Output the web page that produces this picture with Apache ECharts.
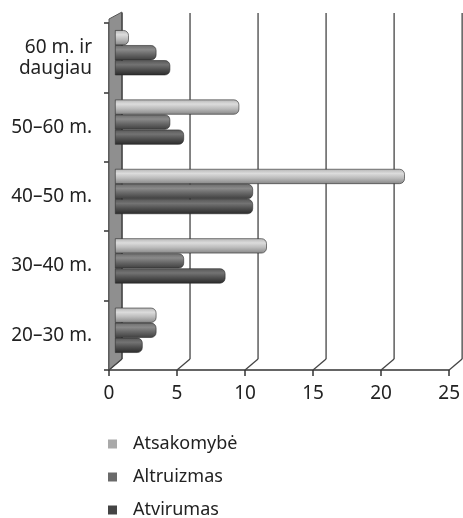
<!DOCTYPE html>
<html><head><meta charset="utf-8">
<script src="https://cdn.jsdelivr.net/npm/echarts@6/dist/echarts.min.js"></script>
<style>html,body{margin:0;padding:0;background:#fff}#c{width:463px;height:518px}</style>
</head><body><div id="c"></div>
<script>
const categories = ['20–30 m.', '30–40 m.', '40–50 m.', '50–60 m.', '60 m. ir\ndaugiau'];
const seriesNames = ['Atsakomybė', 'Altruizmas', 'Atvirumas'];
const atsakomybe = [3, 11, 21, 9, 1];
const altruizmas = [3, 5, 10, 4, 3];
const atvirumas = [2, 8, 10, 5, 4];
const xTicks = [0, 5, 10, 15, 20, 25];

const DX = 13, DY = -11;
const FONT = 'Noto Sans';

function grad(stops) {
  return new echarts.graphic.LinearGradient(0, 0, 0, 1, stops.map((c, i) => ({offset: [0, 0.3, 0.6, 1][i], color: c})));
}
const fills = [
  grad(['#b4b4b4', '#dcdcdc', '#bcbcbc', '#868686']),
  grad(['#6c6c6c', '#8a8a8a', '#686868', '#3e3e3e']),
  grad(['#575757', '#737373', '#525252', '#2a2a2a'])
];
const legendColors = ['#a9a9a9', '#6a6a6a', '#444444'];
const values = [atsakomybe, altruizmas, atvirumas];

const chart = echarts.init(document.getElementById('c'));
chart.setOption({
  animation: false,
  textStyle: {fontFamily: FONT},
  grid: [
    {left: 109, top: 23, width: 345, height: 347},
    {left: 115, top: 18, width: 345, height: 347}
  ],
  xAxis: [
    {gridIndex: 0, type: 'value', min: 0, max: 25, interval: 5,
     axisLine: {show: true, lineStyle: {color: '#333', width: 1.5}},
     axisTick: {show: true, length: 6, lineStyle: {color: '#333', width: 1.5}},
     axisLabel: {fontSize: 19, color: '#222', margin: 14, fontFamily: FONT},
     splitLine: {show: false}},
    {gridIndex: 1, type: 'value', min: 0, max: 25, interval: 5, show: false, splitLine: {show: false}}
  ],
  yAxis: [
    {gridIndex: 0, type: 'category', data: categories,
     axisLine: {show: true, lineStyle: {color: '#333', width: 1.5}},
     axisTick: {show: true, length: 5, lineStyle: {color: '#333', width: 1.5}},
     axisLabel: {fontSize: 19, color: '#222', margin: 17, lineHeight: 21, align: 'right', fontFamily: FONT}},
    {gridIndex: 1, type: 'category', data: categories, show: false}
  ],
  legend: seriesNames.map((n, i) => ({
    orient: 'vertical', left: 108, top: 435 + i * 33, padding: 0, itemWidth: 9, itemHeight: 9,
    icon: 'rect',
    textStyle: {fontSize: 18, lineHeight: 17, color: '#222', padding: [0, 0, 0, 11], fontFamily: FONT},
    data: [{name: n, itemStyle: {color: legendColors[i], borderWidth: 0}}]
  })),
  series: [
    {
      type: 'custom', xAxisIndex: 0, yAxisIndex: 0, z: 1, silent: true,
      data: [[0]],
      renderItem: function (params, api) {
        const cs = params.coordSys;
        const x0 = api.coord([api.value(0), 0])[0];
        const bottom = cs.y + cs.height, top = cs.y;
        return {type: 'polygon', shape: {points: [[x0, bottom], [x0, top - 4], [x0 + DX, top - 11], [x0 + DX, bottom + DY]]},
          style: {fill: '#8f8f8f', stroke: '#555', lineWidth: 1}};
      }
    },
    {
      type: 'custom', xAxisIndex: 0, yAxisIndex: 0, z: 1, silent: true,
      data: xTicks.map(v => [v]),
      renderItem: function (params, api) {
        const cs = params.coordSys;
        const x = api.coord([api.value(0), 0])[0];
        const bottom = cs.y + cs.height, top = cs.y;
        const st = {stroke: '#444', lineWidth: 1.3, fill: null};
        return {type: 'group', children: [
          {type: 'line', shape: {x1: x, y1: bottom, x2: x + DX, y2: bottom + DY}, style: st},
          {type: 'line', shape: {x1: x + DX, y1: bottom + DY, x2: x + DX, y2: top - 10}, style: st}
        ]};
      }
    }
  ].concat(seriesNames.map((n, i) => ({
    name: n, type: 'bar', xAxisIndex: 1, yAxisIndex: 1, z: 3,
    barGap: '0%', barCategoryGap: '35%',
    data: values[i],
    itemStyle: {color: fills[i], borderRadius: [0, 5, 5, 0], borderColor: '#2a2a2a', borderWidth: 0.6}
  })))
});
</script></body></html>
